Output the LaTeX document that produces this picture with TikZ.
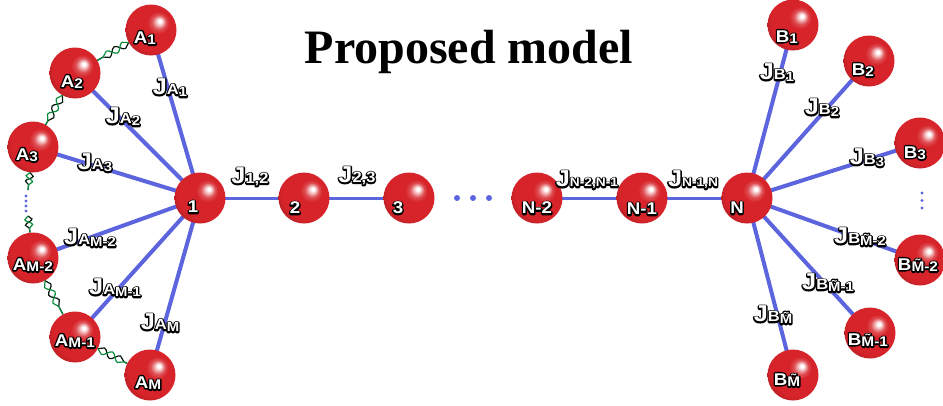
\documentclass[tikz,border=0pt]{standalone}
\usepackage{fontspec}
\setmainfont{Liberation Serif}
\newfontfamily\lblfont{Liberation Sans}[FakeStretch=1.1]
\usetikzlibrary{decorations.pathmorphing,backgrounds}

\definecolor{sphred}{RGB}{214,36,42}
\definecolor{bondblue}{RGB}{92,100,222}
\definecolor{helixgreen}{RGB}{10,140,60}

% red sphere with the highlight towards the upper right
\pgfdeclareradialshading{redsphere}{\pgfqpoint{9bp}{9bp}}{%
  color(0bp)=(white); color(1.5bp)=(white); color(7bp)=(sphred!80!white);
  color(11bp)=(sphred); color(26bp)=(sphred); color(36bp)=(sphred!72!black);
  color(50bp)=(sphred!72!black)}

\tikzset{
  sphere/.style={circle, inner sep=0pt, minimum size=51pt, shading=redsphere},
  bond/.style={draw=bondblue, line width=4pt},
  chainbond/.style={draw=bondblue, line width=3pt},
  strand/.style={line width=1.2pt, decorate,
    decoration={snake, amplitude=3.6pt, segment length=18pt}},
  tag/.style={inner sep=0pt, text=white, font=\lblfont\bfseries},
}

% white lettering with a black outline: a stroked copy under a filled copy
\newcommand\olt[1]{\leavevmode
  \rlap{\special{pdf:literal direct 1 Tr 2.8 w 0 G 1 J 1 j}#1\special{pdf:literal direct 0 Tr}}#1}
\newcommand\jbig[1]{{\fontsize{23}{23}\selectfont #1}}
\newcommand\jsa[1]{{\fontsize{15}{15}\selectfont #1}}
\newcommand\jsb[1]{\raisebox{-2pt}{\fontsize{13.5}{13.5}\selectfont #1}}
\newcommand\tna[1]{{\fontsize{17}{17}\selectfont #1}}
\newcommand\tnb[1]{\raisebox{-1.5pt}{\fontsize{14}{14}\selectfont #1}}

\begin{document}
\begin{tikzpicture}[x=1pt,y=-1pt]
\useasboundingbox (0,0) rectangle (943,405);

% title
\node[anchor=base, inner sep=0pt, font=\fontsize{48}{48}\selectfont\bfseries] (title) at (469,63) {Proposed model};

% spheres
\node[sphere] (A1)  at (151,30)  {};
\node[sphere] (A2)  at (75,73)   {};
\node[sphere] (A3)  at (33,147)  {};
\node[sphere] (Am2) at (33,258)  {};
\node[sphere] (Am1) at (75,337)  {};
\node[sphere] (Am)  at (150,375) {};
\node[sphere] (n1)  at (200,198) {};
\node[sphere] (n2)  at (304,198) {};
\node[sphere] (n3)  at (409,198) {};
\node[sphere] (nN2) at (537,198) {};
\node[sphere] (nN1) at (642,198) {};
\node[sphere] (nN)  at (747,198) {};
\node[sphere] (B1)  at (793,25)  {};
\node[sphere] (B2)  at (869,61)  {};
\node[sphere] (B3)  at (920,143) {};
\node[sphere] (Bm2) at (920,260) {};
\node[sphere] (Bm1) at (870,333) {};
\node[sphere] (Bm)  at (793,375) {};

\coordinate (c1) at (28,190);
\coordinate (c2) at (28,216);

% bonds behind the spheres
\begin{pgfonlayer}{background}
  \foreach \a in {A1,A2,A3,Am2,Am1,Am} \draw[bond] (n1.center) -- (\a.center);
  \foreach \b in {B1,B2,B3,Bm2,Bm1,Bm} \draw[bond] (nN.center) -- (\b.center);
  \draw[chainbond] (n1.center) -- (n2.center) -- (n3.center);
  \draw[chainbond] (nN2.center) -- (nN1.center) -- (nN.center);
\end{pgfonlayer}

% double-helix springs between neighbouring outer spheres
\foreach \p/\q in {A1/A2, A2/A3, Am2/Am1, Am1/Am}{
  \draw[strand, black!85!helixgreen] (\p) -- (\q);
  \draw[strand, helixgreen, decoration={mirror}] (\p) -- (\q);
}
\foreach \p/\q in {A3/c1, c2/Am2}{
  \draw[strand, black!85!helixgreen, decoration={segment length=11pt}] (\p) -- (\q);
  \draw[strand, helixgreen, decoration={mirror, segment length=11pt}] (\p) -- (\q);
}

% ellipsis dots
\foreach \y in {196,201,206,211} \fill[bondblue] (26,\y) circle (1.6pt);
\foreach \y in {193,200.5,208} \fill[bondblue] (922,\y) circle (1.6pt);
\foreach \x in {457,473,489} \fill[bondblue] (\x,198) circle (3pt);

% sphere labels
\node[tag] (tA1)  at (145,38)  {\olt{\tna{A}\tnb{1}}};
\node[tag] (tA2)  at (72,82)   {\olt{\tna{A}\tnb{2}}};
\node[tag] (tA3)  at (27,155)  {\olt{\tna{A}\tnb{3}}};
\node[tag] (tAm2) at (33,265)  {\olt{\tna{A}\tnb{M-2}}};
\node[tag] (tAm1) at (75,341)  {\olt{\tna{A}\tnb{M-1}}};
\node[tag] (tAm)  at (148,383) {\olt{\tna{A}\tnb{M}}};
\node[tag] (t1)   at (193,207) {\olt{\tna{1}}};
\node[tag] (t2)   at (295,208) {\olt{\tna{2}}};
\node[tag] (t3)   at (398,208) {\olt{\tna{3}}};
\node[tag] (tN2)  at (537,208) {\olt{\tna{N-2}}};
\node[tag] (tN1)  at (642,209) {\olt{\tna{N-1}}};
\node[tag] (tN)   at (737,208) {\olt{\tna{N}}};
\node[tag] (tB1)  at (787,37)  {\olt{\tna{B}\tnb{1}}};
\node[tag] (tB2)  at (863,70)  {\olt{\tna{B}\tnb{2}}};
\node[tag] (tB3)  at (915,153) {\olt{\tna{B}\tnb{3}}};
\node[tag] (tBm2) at (918,265) {\olt{\tna{B}\tnb{\~M-2}}};
\node[tag] (tBm1) at (868,340) {\olt{\tna{B}\tnb{\~M-1}}};
\node[tag] (tBm)  at (787,380) {\olt{\tna{B}\tnb{\~M}}};

% coupling labels
\node[tag] (jA1)  at (170,88)  {\olt{\jbig{J}\jsa{A}\jsb{1}}};
\node[tag] (jA2)  at (123,117) {\olt{\jbig{J}\jsa{A}\jsb{2}}};
\node[tag] (jA3)  at (95,163)  {\olt{\jbig{J}\jsa{A}\jsb{3}}};
\node[tag] (jAm2) at (90,238)  {\olt{\jbig{J}\jsa{A}\jsb{M-2}}};
\node[tag] (jAm1) at (115,288) {\olt{\jbig{J}\jsa{A}\jsb{M-1}}};
\node[tag] (jAm)  at (160,323) {\olt{\jbig{J}\jsa{A}\jsb{M}}};
\node[tag] (j12)  at (250,177) {\olt{\jbig{J}\jsa{1,2}}};
\node[tag] (j23)  at (357,176) {\olt{\jbig{J}\jsa{2,3}}};
\node[tag] (jN2)  at (587,180) {\olt{\jbig{J}{\fontsize{12.5}{12.5}\selectfont N-2,N-1}}};
\node[tag] (jN1)  at (693,180) {\olt{\jbig{J}{\fontsize{12.5}{12.5}\selectfont N-1,N}}};
\node[tag] (jB1)  at (777,73)  {\olt{\jbig{J}\jsa{B}\jsb{1}}};
\node[tag] (jB2)  at (822,108) {\olt{\jbig{J}\jsa{B}\jsb{2}}};
\node[tag] (jB3)  at (867,158) {\olt{\jbig{J}\jsa{B}\jsb{3}}};
\node[tag] (jBm2) at (860,237) {\olt{\jbig{J}\jsa{B}\jsb{\~M-2}}};
\node[tag] (jBm1) at (828,283) {\olt{\jbig{J}\jsa{B}\jsb{\~M-1}}};
\node[tag] (jBm)  at (773,315) {\olt{\jbig{J}\jsa{B}\jsb{\~M}}};
\end{tikzpicture}
\end{document}
